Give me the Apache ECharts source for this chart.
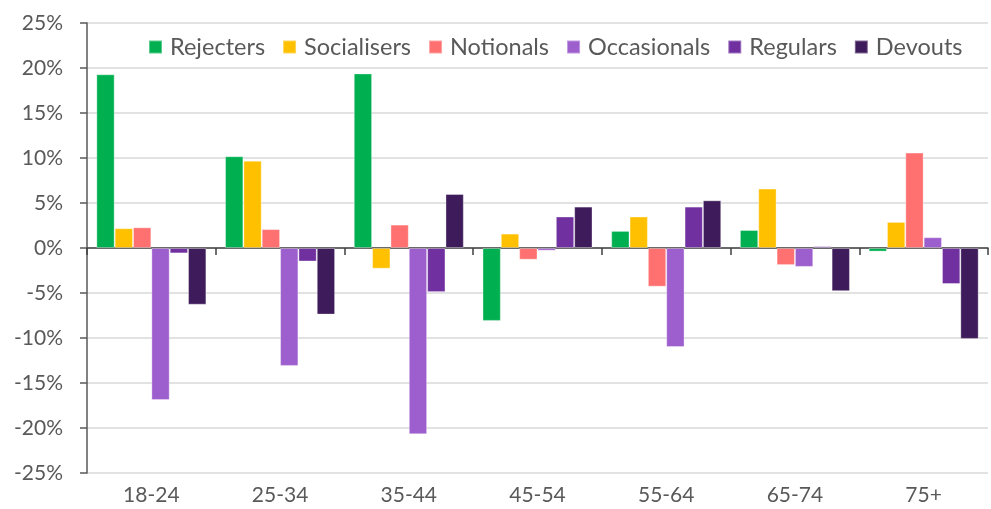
<!DOCTYPE html>
<html>
<head>
<meta charset="utf-8">
<script src="https://cdn.jsdelivr.net/npm/echarts@6/dist/echarts.min.js"></script>
<style>
html,body{margin:0;padding:0;background:#fff;}
#chart{width:991px;height:509px;}
</style>
</head>
<body>
<div id="chart"></div>
<script>
var categories = ['18-24','25-34','35-44','45-54','55-64','65-74','75+'];
var seriesNames = ['Rejecters','Socialisers','Notionals','Occasionals','Regulars','Devouts'];
var rejecters   = [19.3, 10.2, 19.4, -8.1, 1.9, 2.0, -0.4];
var socialisers = [2.2, 9.7, -2.3, 1.6, 3.5, 6.6, 2.9];
var notionals   = [2.3, 2.1, 2.6, -1.3, -4.3, -1.9, 10.6];
var occasionals = [-16.9, -13.1, -20.7, -0.3, -11.0, -2.1, 1.2];
var regulars    = [-0.6, -1.5, -4.9, 3.5, 4.6, 0.2, -4.0];
var devouts     = [-6.3, -7.4, 6.0, 4.6, 5.3, -4.8, -10.1];
var yTicks = [-25,-20,-15,-10,-5,0,5,10,15,20,25];

var values = [rejecters, socialisers, notionals, occasionals, regulars, devouts];
var colors = ['#00B050','#FFC000','#FF7171','#9E5FCE','#7030A0','#3E1B5A'];
var font = 'Lato, "Open Sans", sans-serif';
var textColor = '#595959';

var chart = echarts.init(document.getElementById('chart'), null, {renderer:'canvas'});
var series = seriesNames.map(function(n,i){
  return {
    name:n, type:'bar', xAxisIndex:0, data:values[i],
    barGap:'0%', barCategoryGap:'14.5%',
    itemStyle:{color:colors[i], borderColor:'rgba(255,255,255,0.35)', borderWidth:1},
    emphasis:{disabled:true}
  };
});
chart.setOption({
  animation:false,
  color:colors,
  textStyle:{fontFamily:font},
  grid:{left:87, right:3, top:23, bottom:36, containLabel:false},
  legend:{
    left:143, top:30, itemWidth:13, itemHeight:13, itemGap:17,
    icon:'rect',
    textStyle:{fontFamily:font, fontSize:23.5, color:textColor, padding:[0,0,0,3]},
    data:seriesNames
  },
  xAxis:[{
    type:'category', data:categories, position:'bottom',
    axisLine:{show:false, onZero:false}, axisTick:{show:false},
    axisLabel:{fontFamily:font, fontSize:21, color:textColor, margin:12}
  },{
    type:'category', data:categories, position:'bottom',
    axisLine:{show:true, onZero:true, lineStyle:{color:'#404040', width:1.5}},
    axisTick:{show:true, length:7, inside:false, lineStyle:{color:'#404040', width:1.5}},
    axisLabel:{show:false}
  }],
  yAxis:{
    type:'value', min:-25, max:25, interval:5,
    axisLine:{show:true, lineStyle:{color:'#595959', width:1.5}},
    axisTick:{show:true, length:7, lineStyle:{color:'#595959', width:1.5}},
    splitLine:{show:true, lineStyle:{color:'#D9D9D9', width:1.5}},
    axisLabel:{fontFamily:font, fontSize:21, color:textColor, margin:24,
      formatter:function(v){return v+'%';}}
  },
  series:series
});
</script>
</body>
</html>
